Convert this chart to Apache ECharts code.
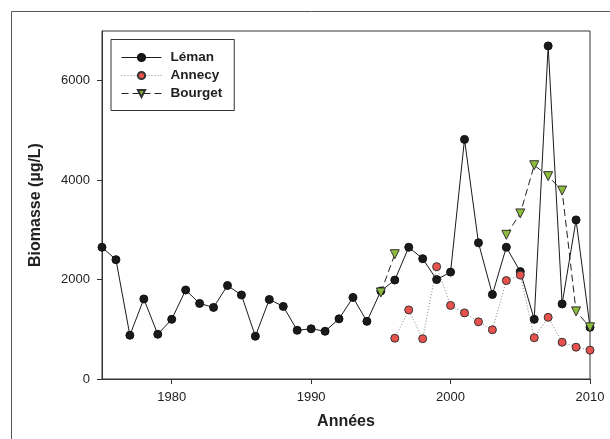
<!DOCTYPE html>
<html>
<head>
<meta charset="utf-8">
<script src="https://cdn.jsdelivr.net/npm/echarts@6/dist/echarts.min.js"></script>
<style>
html,body{margin:0;padding:0;background:#fff;}
#chart{width:610px;height:439px;}
</style>
</head>
<body>
<div id="chart"></div>
<script>
// Data
const years = [1975,1976,1977,1978,1979,1980,1981,1982,1983,1984,
               1985,1986,1987,1988,1989,1990,1991,1992,1993,1994,
               1995,1996,1997,1998,1999,2000,2001,2002,2003,2004,
               2005,2006,2007,2008,2009,2010];
const leman = [2650,2400,880,1610,900,1200,1790,1520,1440,1880,
               1690,860,1600,1460,980,1010,960,1210,1640,1160,
               1770,1990,2650,2420,2000,2150,4820,2740,1700,2650,
               2160,1200,6700,1510,3200,1040];
const annecyYears = [1996,1997,1998,1999,2000,2001,2002,2003,2004,2005,2006,2007,2008,2009,2010];
const annecy = [820,1390,810,2260,1480,1330,1150,990,1980,2090,830,1240,740,640,580];
const bourgetYears = [1995,1996,1997,1998,1999,2000,2001,2002,2003,2004,2005,2006,2007,2008,2009,2010];
const bourget = [1740,2510,null,null,null,null,null,null,null,2900,3330,4300,4080,3790,1360,1040];
const xTicks = [1980,1990,2000,2010];
const yTicks = [0,2000,4000,6000];

const pair = (xs, ys) => xs.map((x, i) => [x, ys[i] === null ? '-' : ys[i]]);

const chart = echarts.init(document.getElementById('chart'), null, {renderer: 'canvas'});
const font = 'Liberation Sans, Arial, sans-serif';

chart.setOption({
  animation: false,
  backgroundColor: '#fff',
  textStyle: {fontFamily: font},
  graphic: [{
    type: 'rect',
    silent: true,
    shape: {x: 11.5, y: 11.5, width: 800, height: 600},
    style: {fill: 'none', stroke: '#555', lineWidth: 1}
  }],
  grid: {
    left: 102, right: 20, top: 31, bottom: 60,
    show: true, borderColor: '#333', borderWidth: 1, backgroundColor: 'transparent'
  },
  legend: {
    left: 111, top: 39.5,
    orient: 'vertical',
    borderColor: '#333', borderWidth: 1,
    padding: [9, 12, 8, 10],
    itemWidth: 40, itemHeight: 9, itemGap: 0,
    lineStyle: {width: 1},
    textStyle: {fontFamily: font, fontSize: 13.5, fontWeight: 'bold', color: '#222', lineHeight: 18, padding: [0, 0, 0, 4]},
    data: ['Léman', 'Annecy', 'Bourget']
  },
  xAxis: {
    type: 'value', min: 1975, max: 2010, interval: 5,
    name: 'Années', nameLocation: 'middle', nameGap: 35,
    nameTextStyle: {fontFamily: font, fontSize: 16, fontWeight: 'bold', color: '#222'},
    axisLine: {show: true, lineStyle: {color: '#333', width: 1}},
    axisTick: {show: true, length: 5, customValues: xTicks, lineStyle: {color: '#333'}},
    axisLabel: {customValues: xTicks, formatter: v => String(v), fontFamily: font, fontSize: 13, color: '#222', margin: 12},
    splitLine: {show: false}
  },
  yAxis: {
    type: 'value', min: 0, max: 7000, interval: 1000,
    name: 'Biomasse (µg/L)', nameLocation: 'middle', nameGap: 58,
    nameTextStyle: {fontFamily: font, fontSize: 16, fontWeight: 'bold', color: '#222'},
    axisLine: {show: true, lineStyle: {color: '#333', width: 1}},
    axisTick: {show: true, length: 5, customValues: yTicks, lineStyle: {color: '#333'}},
    axisLabel: {customValues: yTicks, formatter: v => String(v), fontFamily: font, fontSize: 13, color: '#222', margin: 12},
    splitLine: {show: false}
  },
  series: [
    {
      name: 'Léman', type: 'line',
      data: pair(years, leman),
      symbol: 'circle', symbolSize: 8,
      itemStyle: {color: '#1a1a1a', borderColor: '#111', borderWidth: 1},
      lineStyle: {color: '#1a1a1a', width: 1}
    },
    {
      name: 'Annecy', type: 'line',
      data: pair(annecyYears, annecy),
      symbol: 'circle', symbolSize: 8,
      itemStyle: {color: '#e8524d', borderColor: '#333', borderWidth: 1},
      lineStyle: {color: '#888', width: 1, type: [1, 2]}
    },
    {
      name: 'Bourget', type: 'line',
      data: pair(bourgetYears, bourget),
      connectNulls: false,
      symbol: 'triangle', symbolSize: 9, symbolRotate: 180,
      itemStyle: {color: '#8dbb3c', borderColor: '#333', borderWidth: 1},
      lineStyle: {color: '#222', width: 1, type: [7, 4]}
    }
  ]
});
</script>
</body>
</html>
